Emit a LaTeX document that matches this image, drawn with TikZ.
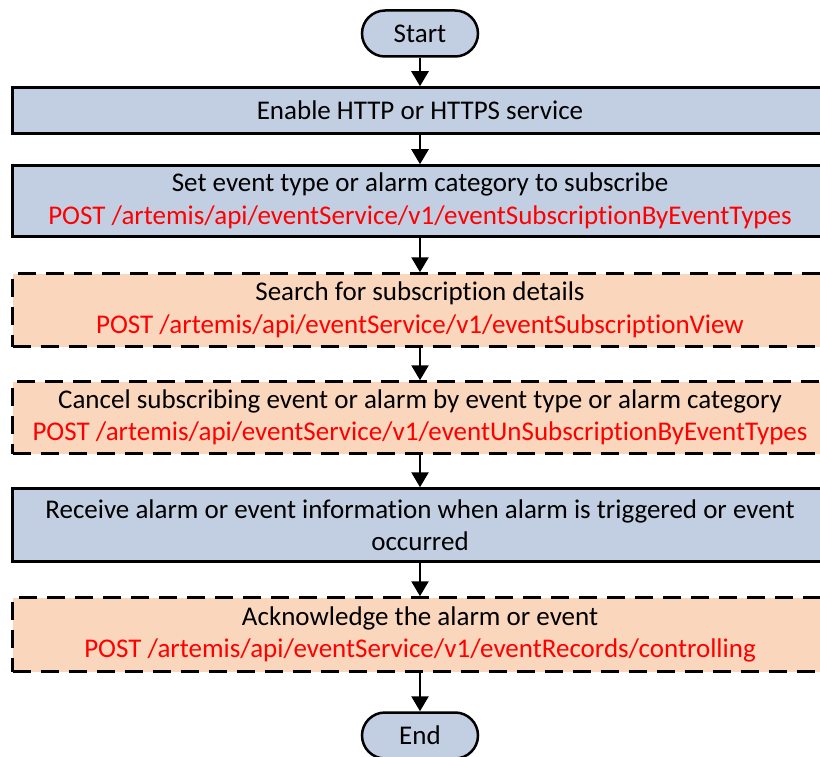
\documentclass[tikz,border=0pt]{standalone}
\usepackage{fontspec}
\setmainfont{Carlito}[Ligatures=NoCommon]
\usetikzlibrary{arrows.meta}

\definecolor{stepblue}{RGB}{194,207,226}
\definecolor{steporange}{RGB}{250,214,188}
\definecolor{apired}{RGB}{255,0,0}

\begin{document}
\begin{tikzpicture}[x=1pt,y=1pt,
    every node/.style={font=\fontsize{27}{32.5}\selectfont},
    terminal/.style={draw,line width=2.5pt,fill=stepblue,rounded corners=23pt,
      minimum width=116pt,minimum height=46pt,inner sep=0pt},
    task/.style={draw,line width=2.5pt,fill=stepblue,minimum width=815pt,
      inner sep=0pt,align=center},
    optional/.style={task,fill=steporange,dash pattern=on 18pt off 10pt},
    flow/.style={line width=2.5pt,-{Triangle[length=15pt,width=17pt]}}]

    \useasboundingbox (0,0) rectangle (820,-757);
    \clip (0,0) rectangle (820,-757);

%   start and end
    \node[terminal] (start) at (420,-33.5) {Start};
    \node[terminal] (end) at (420,-735.5) {End};

%   steps, dashed ones are optional
    \node[task,minimum height=46pt] (enable) at (420,-110.5)
      {Enable HTTP or HTTPS service};
    \node[task,minimum height=71pt] (subscribe) at (420,-201)
      {Set event type or alarm category to subscribe\\
       \textcolor{apired}{POST /artemis/api/eventService/v1/eventSubscriptionByEventTypes}};
    \node[optional,minimum height=73pt] (view) at (420,-310)
      {Search for subscription details\\
       \textcolor{apired}{POST /artemis/api/eventService/v1/eventSubscriptionView}};
    \node[optional,minimum height=72pt] (cancel) at (420,-417.5)
      {Cancel subscribing event or alarm by event type or alarm category\\
       \textcolor{apired}{POST /artemis/api/eventService/v1/eventUnSubscriptionByEventTypes}};
    \node[task,minimum height=73pt] (receive) at (420,-525)
      {Receive alarm or event information when alarm is triggered or event\\
       occurred};
    \node[optional,minimum height=74pt] (ack) at (420,-634.5)
      {Acknowledge the alarm or event\\
       \textcolor{apired}{POST /artemis/api/eventService/v1/eventRecords/controlling}};

    \foreach \from/\to in {start/enable, enable/subscribe, subscribe/view,
      view/cancel, cancel/receive, receive/ack, ack/end}
    {
      \draw[flow] (\from) -- (\to);
    };

\end{tikzpicture}
\end{document}
